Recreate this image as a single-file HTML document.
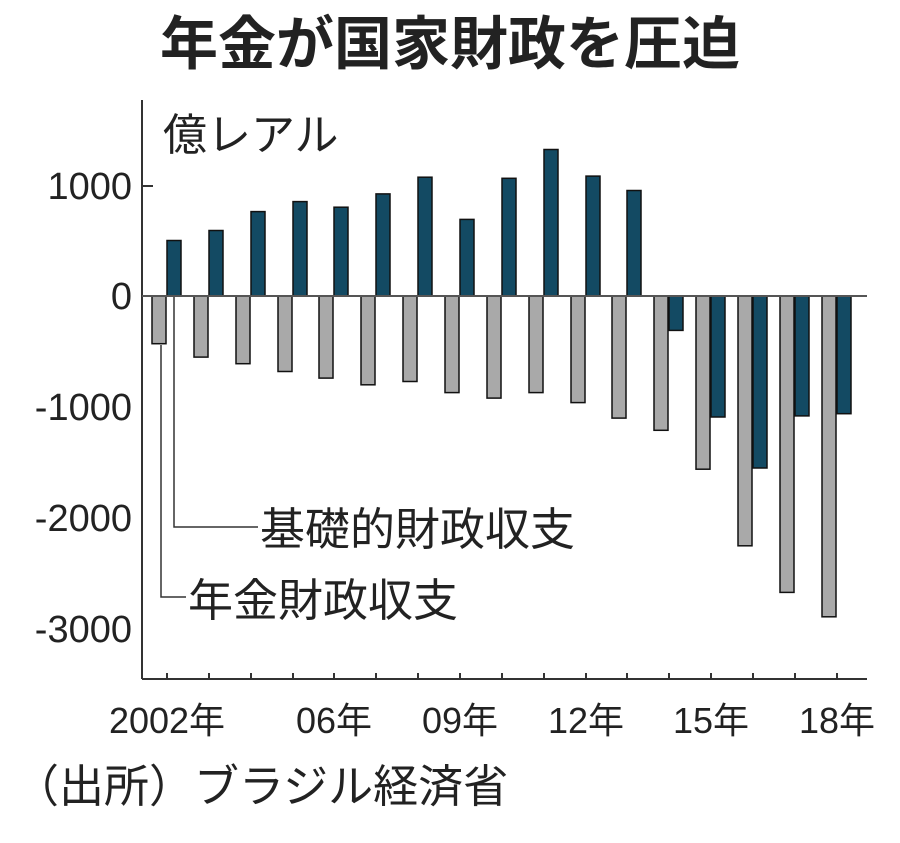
<!DOCTYPE html>
<html><head><meta charset="utf-8"><style>
body{margin:0;background:#fff;}
text{font-family:"Liberation Sans","Noto Sans CJK JP",sans-serif;fill:#222;}
</style></head><body>
<svg width="900" height="838" viewBox="0 0 900 838" xmlns="http://www.w3.org/2000/svg">
<text x="450" y="64" font-size="58" font-weight="bold" text-anchor="middle">年金が国家財政を圧迫</text>
<text x="163" y="150" font-size="44">億レアル</text>
<g font-size="38" text-anchor="end">
<text x="132" y="199">1000</text>
<text x="132" y="309">0</text>
<text x="132" y="420">-1000</text>
<text x="132" y="531">-2000</text>
<text x="132" y="642">-3000</text>
</g>
<line x1="142" y1="100" x2="142" y2="679" stroke="#333" stroke-width="2"/>
<line x1="142" y1="679" x2="867" y2="679" stroke="#333" stroke-width="2"/>
<line x1="142" y1="186" x2="153" y2="186" stroke="#333" stroke-width="2"/>
<g stroke="#111" stroke-width="1.5" fill="#a9a9a9">
<rect x="152" y="296" width="14" height="47.7"/>
<rect x="194" y="296" width="14" height="61.1"/>
<rect x="236" y="296" width="14" height="67.7"/>
<rect x="278" y="296" width="14" height="75.5"/>
<rect x="319" y="296" width="14" height="82.1"/>
<rect x="361" y="296" width="14" height="88.8"/>
<rect x="403" y="296" width="14" height="85.5"/>
<rect x="445" y="296" width="14" height="96.6"/>
<rect x="487" y="296" width="14" height="102.1"/>
<rect x="529" y="296" width="14" height="96.6"/>
<rect x="571" y="296" width="14" height="106.6"/>
<rect x="612" y="296" width="14" height="122.1"/>
<rect x="654" y="296" width="14" height="134.3"/>
<rect x="696" y="296" width="14" height="173.2"/>
<rect x="738" y="296" width="14" height="249.8"/>
<rect x="780" y="296" width="14" height="296.4"/>
<rect x="822" y="296" width="14" height="320.8"/>
</g>
<g stroke="#111" stroke-width="1.5" fill="#134a63">
<rect x="167" y="240.5" width="14" height="55.5"/>
<rect x="209" y="230.5" width="14" height="65.5"/>
<rect x="251" y="211.6" width="14" height="84.4"/>
<rect x="293" y="201.6" width="14" height="94.4"/>
<rect x="334" y="207.2" width="14" height="88.8"/>
<rect x="376" y="193.9" width="14" height="102.1"/>
<rect x="418" y="177.2" width="14" height="118.8"/>
<rect x="460" y="219.4" width="14" height="76.6"/>
<rect x="502" y="178.3" width="14" height="117.7"/>
<rect x="544" y="149.5" width="14" height="146.5"/>
<rect x="586" y="176.1" width="14" height="119.9"/>
<rect x="627" y="190.5" width="14" height="105.5"/>
<rect x="669" y="296" width="14" height="34.4"/>
<rect x="711" y="296" width="14" height="121"/>
<rect x="753" y="296" width="14" height="172"/>
<rect x="795" y="296" width="14" height="119.9"/>
<rect x="837" y="296" width="14" height="117.7"/>
</g>
<g stroke="#333" stroke-width="2">
<line x1="167" y1="673" x2="167" y2="679"/><line x1="209" y1="673" x2="209" y2="679"/>
<line x1="251" y1="673" x2="251" y2="679"/><line x1="293" y1="673" x2="293" y2="679"/>
<line x1="334" y1="673" x2="334" y2="679"/><line x1="376" y1="673" x2="376" y2="679"/>
<line x1="418" y1="673" x2="418" y2="679"/><line x1="460" y1="673" x2="460" y2="679"/>
<line x1="502" y1="673" x2="502" y2="679"/><line x1="544" y1="673" x2="544" y2="679"/>
<line x1="586" y1="673" x2="586" y2="679"/><line x1="627" y1="673" x2="627" y2="679"/>
<line x1="669" y1="673" x2="669" y2="679"/><line x1="711" y1="673" x2="711" y2="679"/>
<line x1="753" y1="673" x2="753" y2="679"/><line x1="795" y1="673" x2="795" y2="679"/>
<line x1="837" y1="673" x2="837" y2="679"/>
</g>
<line x1="142" y1="296" x2="867" y2="296" stroke="#555" stroke-width="2"/>
<polyline points="161,345 161,597 186,597" fill="none" stroke="#333" stroke-width="1.5"/>
<polyline points="174,297 174,527 258,527" fill="none" stroke="#333" stroke-width="1.5"/>
<text x="260" y="545" font-size="45">基礎的財政収支</text>
<text x="188" y="616" font-size="45">年金財政収支</text>
<g font-size="36" text-anchor="middle">
<text x="167" y="733">2002年</text>
<text x="334" y="733">06年</text>
<text x="460" y="733">09年</text>
<text x="586" y="733">12年</text>
<text x="711" y="733">15年</text>
<text x="837" y="733">18年</text>
</g>
<text x="14" y="802" font-size="45">（出所）ブラジル経済省</text>
</svg>
</body></html>
